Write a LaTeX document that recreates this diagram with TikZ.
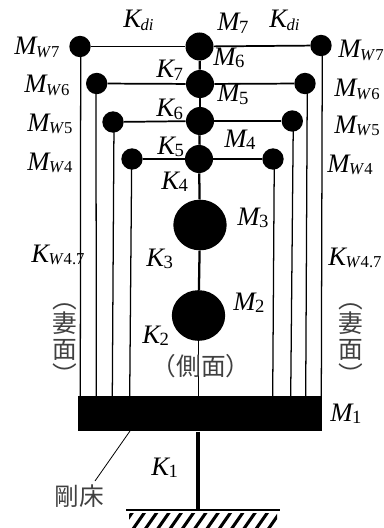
\documentclass[tikz,border=0pt]{standalone}
\usepackage{fontspec}
\setmainfont{Liberation Serif}
\newfontfamily\cjkfont{Noto Sans CJK JP}
\usetikzlibrary{shapes.geometric}
\tikzset{
  massnode/.style={circle,fill=black,inner sep=0pt,minimum size=#1},
  bigmass/.style={ellipse,fill=black,inner sep=0pt,minimum width=40pt,minimum height=38pt},
  lab/.style={inner sep=0pt,anchor=base west,font=\fontsize{20}{20}\selectfont},
  jlab/.style={inner sep=0pt,font=\fontsize{18.5}{18.5}\selectfont\cjkfont\color{black!75}},
  link/.style={line width=1.3pt},
  spine/.style={line width=1.7pt},
}
\newcommand{\subx}[2]{\kern-1.2pt{\fontsize{#1}{#1}\selectfont\raisebox{-2.2pt}{#2}}}
\newcommand{\ms}[2]{\textit{#1}\subx{14}{#2}}
\newcommand{\mw}[1]{\textit{M}\subx{12.5}{\textit{W}#1}}
\newcommand{\kw}{\textit{K}\subx{12.5}{\textit{W}4.7}}
\newcommand{\kdi}{\textit{K}\subx{12.5}{\textit{di}}}
\begin{document}
\begin{tikzpicture}[x=0.75pt,y=-0.75pt]
\useasboundingbox (0,0) rectangle (384,528);
% nodes
\node[massnode=21pt] (m7) at (199.5,46.5) {};
\node[massnode=21pt] (m6) at (200,84) {};
\node[massnode=21pt] (m5) at (200,121) {};
\node[massnode=21pt] (m4) at (199,159) {};
\node[bigmass] (m3) at (200,225) {};
\node[bigmass] (m2) at (198.5,315.5) {};
\node[massnode=16pt] (l7) at (80,46.5) {};
\node[massnode=16pt] (l6) at (96.7,83.5) {};
\node[massnode=16pt] (l5) at (113,122) {};
\node[massnode=16pt] (l4) at (132,159) {};
\node[massnode=16pt] (r7) at (321,45.5) {};
\node[massnode=16pt] (r6) at (305,83.5) {};
\node[massnode=16pt] (r5) at (292.3,121) {};
\node[massnode=16pt] (r4) at (273,159) {};
\node[fill=black,inner sep=0pt,minimum width=183pt,minimum height=26.5pt] (floor) at (200.3,413.7) {};
\coordinate (gnd) at (198,510);
\coordinate (gl) at (126,510);
\coordinate (gr) at (280,510);
\coordinate (tag) at (95,481);
\coordinate (tagtop) at (130,431);
% links
\draw[link] (l7) -- (m7);
\draw[link] (m7) -- (r7);
\draw[link] (l6) -- (m6);
\draw[link] (m6) -- (r6);
\draw[link] (l5) -- (m5);
\draw[link] (m5) -- (r5);
\draw[link] (l4) -- (m4);
\draw[link] (m4) -- (r4);
\draw[spine] (m7) -- (m6);
\draw[spine] (m6) -- (m5);
\draw[spine] (m5) -- (m4);
\draw[spine] (m4) -- (m3);
\draw[spine] (m3) -- (m2);
\draw[line width=1.2pt] (m2) -- (m2 |- floor.north);
\foreach \n/\a/\b in {l7/80.7/80.3,l6/96/96.3,l5/114/112.3,l4/131.7/129.7,r7/322.3/321.3,r6/307.3/305.7,r5/293.3/290.7,r4/274.3/272.7}
  \draw[line width=0.95pt] (\n.center -| \a,0) -- (\b,0 |- floor.north);
\draw[line width=2.4pt] (gnd |- floor.south) -- (gnd);
\draw[line width=1.5pt] (gl) -- (gr);
\draw[line width=0.6pt] (tagtop) -- (tag);
% hatching
\begin{scope}
\clip (129,513) rectangle (277,528);
\foreach \x in {120,132.3,...,290}
  \draw[line width=2.3pt] (\x,530) -- (\x+14,510);
\end{scope}
% labels
\node[lab] at (123,28) {\kdi};
\node[lab] at (269,28) {\kdi};
\node[lab] at (217,31) {\ms{M}{7}};
\node[lab] at (213,65) {\ms{M}{6}};
\node[lab] at (217,102) {\ms{M}{5}};
\node[lab] at (224,147) {\ms{M}{4}};
\node[lab] at (237,225) {\ms{M}{3}};
\node[lab] at (233,310) {\ms{M}{2}};
\node[lab] at (330,421) {\ms{M}{1}};
\node[lab] at (14,55) {\mw{7}};
\node[lab] at (24,93) {\mw{6}};
\node[lab] at (27,131) {\mw{5}};
\node[lab] at (27,170) {\mw{4}};
\node[lab] at (338,58) {\mw{7}};
\node[lab] at (334,97) {\mw{6}};
\node[lab] at (334,133) {\mw{5}};
\node[lab] at (327,172) {\mw{4}};
\node[lab] at (156,78) {\ms{K}{7}};
\node[lab] at (156,117) {\ms{K}{6}};
\node[lab] at (157,154) {\ms{K}{5}};
\node[lab] at (161,189) {\ms{K}{4}};
\node[lab] at (146,266) {\ms{K}{3}};
\node[lab] at (142,343) {\ms{K}{2}};
\node[lab] at (151,475) {\ms{K}{1}};
\node[lab] at (31,262) {\kw};
\node[lab] at (328,265) {\kw};
% Japanese
\foreach \x in {65,351}{
  \node[jlab,rotate=-90] at (\x,299) {（};
  \node[jlab] at (\x,323) {妻};
  \node[jlab] at (\x,350) {面};
  \node[jlab,rotate=-90] at (\x,374.5) {）};
}
\node[jlab] at (201,366) {（側面）};
\node[jlab] at (79,496) {剛床};
\end{tikzpicture}
\end{document}
